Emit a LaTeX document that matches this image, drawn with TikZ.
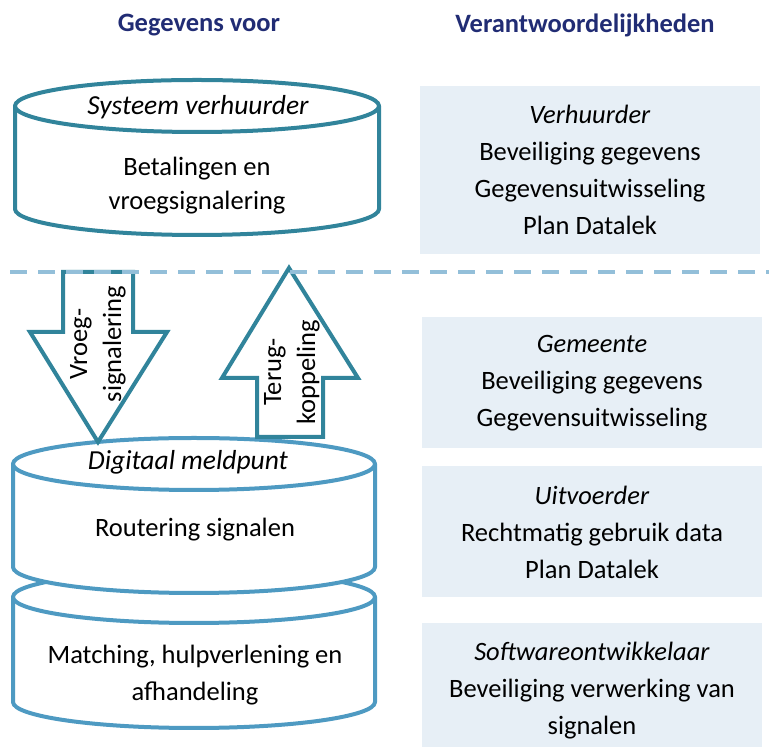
\documentclass[tikz,border=0pt]{standalone}
\usepackage{fontspec}
\setmainfont{Carlito}
\usepackage{tikz}
\usetikzlibrary{positioning,calc}

\definecolor{kop}{HTML}{212C74}
\definecolor{tealdonker}{HTML}{31849B}
\definecolor{teallicht}{HTML}{4E9AC2}
\definecolor{stippel}{HTML}{93BFD9}
\definecolor{vakblauw}{HTML}{E7EFF6}

\begin{document}
\begin{tikzpicture}[x=1pt,y=1pt,
        line join=round,
        kopje/.style = {font=\fontsize{26.5}{30}\selectfont\bfseries,text=kop},
        tekst/.style = {font=\fontsize{26.5}{37}\selectfont,align=center,inner sep=0pt},
        smal/.style = {font=\fontsize{26.5}{34}\selectfont,align=center,inner sep=0pt},
        cilA/.style = {draw=tealdonker,line width=4pt,fill=white},
        cilB/.style = {draw=teallicht,line width=4pt,fill=white},
        pijl/.style = {draw=tealdonker,line width=4pt,fill=white,line join=miter},
        vak/.style = {fill=vakblauw,minimum width=340,inner sep=0pt,
                      font=\fontsize{26.5}{37}\selectfont,align=center}
        ]
        \useasboundingbox (0,0) rectangle (769,747);

        %Kopjes
        \node[kopje] (gegevens) at (199,722) {Gegevens voor};
        \node[kopje] (verantw) at (585,722) {Verantwoordelijkheden};

        %Cilinder onder
        \node[coordinate] (c3) at (194,150) {};
        \draw[cilB] (c3) ++(-181,0) -- ++(0,-105)
            arc[start angle=180,end angle=360,x radius=181,y radius=26] -- ++(0,105);
        \draw[cilB] (c3) ellipse[x radius=181,y radius=26];

        %Cilinder midden
        \node[coordinate] (c2) at (194,283) {};
        \filldraw[cilB] (c2) ++(-181,0) -- ++(0,-103)
            arc[start angle=180,end angle=360,x radius=181,y radius=26] -- ++(0,103);
        \draw[cilB] (c2) ellipse[x radius=181,y radius=26];

        %Cilinder boven
        \node[coordinate] (c1) at (197,641) {};
        \filldraw[cilA] (c1) ++(-182,0) -- ++(0,-103)
            arc[start angle=180,end angle=360,x radius=182,y radius=26] -- ++(0,103);
        \draw[cilA] (c1) ellipse[x radius=182,y radius=26];

        %Pijlen
        \draw[pijl] (63,475) -- (63,415) -- (30,415) -- (98,305) -- (167,415)
            -- (133,415) -- (133,475) -- cycle;
        \draw[pijl] (257,310) -- (257,369) -- (222,369) -- (289,479) -- (358,369)
            -- (323,369) -- (323,310) -- cycle;
        \node[smal,rotate=90] (vroeg) at (98,403) {Vroeg-\\signalering};
        \node[smal,rotate=90] (terug) at (292,375) {Terug-\\koppeling};

        %Scheiding
        \draw[stippel,line width=3.5pt,dash pattern=on 17pt off 11pt] (10,475) -- (769,475);

        %Teksten cilinders
        \node[tekst,font=\fontsize{27.5}{37}\selectfont\itshape] (sysverh) at (198,640) {Systeem verhuurder};
        \node[smal] (betaling) at (197,561) {Betalingen en\\vroegsignalering};
        \node[tekst,font=\fontsize{27.5}{37}\selectfont\itshape] (meldpunt) at (188,285) {Digitaal meldpunt};
        \node[tekst] (routering) at (195,217) {Routering signalen};
        \node[tekst] (matching) at (195,72) {Matching, hulpverlening en\\afhandeling};

        %Verantwoordelijkheden
        \node[vak,minimum height=168] (verhuurder) at (590,577)
            {\textit{Verhuurder}\\Beveiliging gegevens\\Gegevensuitwisseling\\Plan Datalek};
        \node[vak,minimum height=131] (gemeente) at (592,364)
            {\textit{Gemeente}\\Beveiliging gegevens\\Gegevensuitwisseling};
        \node[vak,minimum height=131] (uitvoerder) at (592,215)
            {\textit{Uitvoerder}\\Rechtmatig gebruik data\\Plan Datalek};
        \node[vak,minimum height=136] (software) at (592,56)
            {\textit{Softwareontwikkelaar}\\Beveiliging verwerking van\\signalen};
\end{tikzpicture}
\end{document}
